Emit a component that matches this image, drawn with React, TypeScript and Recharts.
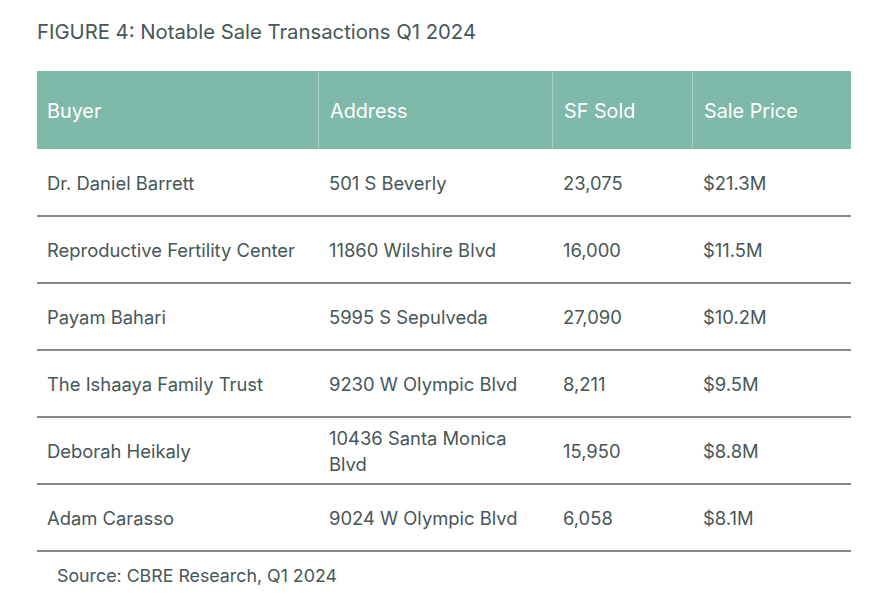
import React from 'react';
import { BarChart, Bar, XAxis, YAxis } from 'recharts';

const title = 'FIGURE 4: Notable Sale Transactions Q1 2024';
const source = 'Source: CBRE Research, Q1 2024';
const headers = ['Buyer', 'Address', 'SF Sold', 'Sale Price'];

const buyers = [
  'Dr. Daniel Barrett',
  'Reproductive Fertility Center',
  'Payam Bahari',
  'The Ishaaya Family Trust',
  'Deborah Heikaly',
  'Adam Carasso',
];
const addresses = [
  '501 S Beverly',
  '11860 Wilshire Blvd',
  '5995 S Sepulveda',
  '9230 W Olympic Blvd',
  '10436 Santa Monica\nBlvd',
  '9024 W Olympic Blvd',
];
const sfSold = [23075, 16000, 27090, 8211, 15950, 6058];
const salePrice = ['$21.3M', '$11.5M', '$10.2M', '$9.5M', '$8.8M', '$8.1M'];

const rows = buyers.map((buyer, i) => ({
  buyer,
  address: addresses[i],
  sf: sfSold[i],
  price: salePrice[i],
}));

// column left edges, relative to the table's left edge
const COLS = [0, 281, 515, 655];
const TABLE_W = 814;
const FONT = 'Inter, Roboto, sans-serif';
const TEXT = '#475657';
const HEAD_BG = '#7fb9aa';
const RULE = '#5b6667';

const RowShape = (props: any) => {
  const { y, height, payload } = props;
  const x0 = 37;
  const cy = y + height / 2;
  const addrLines = String(payload.address).split('\n');
  const lh = 26;
  return (
    <g fontFamily={FONT} fontSize={18.4} fill={TEXT}>
      <text x={x0 + COLS[0] + 10} y={cy} dominantBaseline="central">{payload.buyer}</text>
      {addrLines.map((t: string, k: number) => (
        <text
          key={k}
          x={x0 + COLS[1] + 11}
          y={cy + (k - (addrLines.length - 1) / 2) * lh}
          dominantBaseline="central"
        >
          {t}
        </text>
      ))}
      <text x={x0 + COLS[2] + 11} y={cy} dominantBaseline="central">
        {payload.sf.toLocaleString('en-US')}
      </text>
      <text x={x0 + COLS[3] + 11} y={cy} dominantBaseline="central">{payload.price}</text>
      <line x1={x0} x2={x0 + TABLE_W} y1={y + height} y2={y + height} stroke={RULE} strokeWidth={1.6} />
    </g>
  );
};

export default function App() {
  return (
    <div style={{ position: 'absolute', left: 0, top: 0, width: 887, height: 615, background: '#fff', fontFamily: FONT }}>
      <div style={{ position: 'absolute', left: 37, top: 19, fontSize: 20.3, color: TEXT, whiteSpace: 'nowrap' }}>{title}</div>

      {/* header band */}
      <div style={{ position: 'absolute', left: 37, top: 71, width: TABLE_W, height: 78, background: HEAD_BG }}>
        {headers.map((h, i) => (
          <div
            key={h}
            style={{
              position: 'absolute',
              left: COLS[i],
              top: 0,
              height: 78,
              width: (i < COLS.length - 1 ? COLS[i + 1] : TABLE_W) - COLS[i],
              borderLeft: i > 0 ? '1px solid rgba(255,255,255,0.35)' : 'none',
              boxSizing: 'border-box',
              paddingLeft: i === 0 ? 10 : 11,
              lineHeight: '80px',
              fontSize: 19.8,
              color: '#ffffff',
            }}
          >
            {h}
          </div>
        ))}
      </div>

      <div style={{ position: 'absolute', left: 0, top: 0 }}>
        <BarChart
          width={887}
          height={615}
          data={rows}
          layout="vertical"
          barCategoryGap={0}
          margin={{ top: 149, right: 36, bottom: 64, left: 37 }}
        >
          <XAxis type="number" hide domain={[0, 'dataMax']} />
          <YAxis type="category" dataKey="buyer" hide />
          <Bar dataKey="sf" isAnimationActive={false} shape={RowShape} />
        </BarChart>
      </div>

      <div style={{ position: 'absolute', left: 57, top: 565, fontSize: 17.8, color: TEXT, whiteSpace: 'nowrap' }}>{source}</div>
    </div>
  );
}
